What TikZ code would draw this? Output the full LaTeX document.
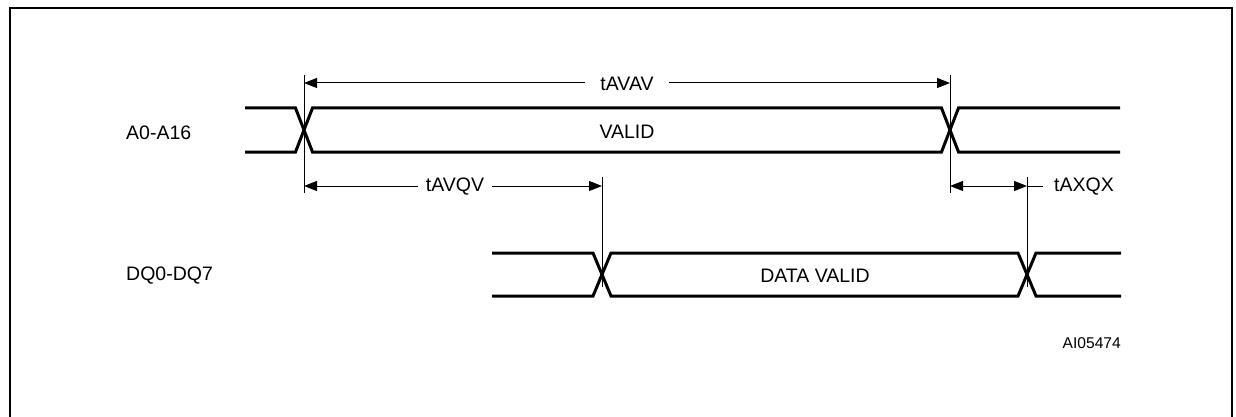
\documentclass[tikz,border=0pt]{standalone}
\usepackage{fontspec}
\setmainfont{Liberation Sans}
\usetikzlibrary{arrows.meta}
\tikzset{
  lbl/.style={font=\fontsize{19.5}{23}\selectfont, inner sep=0pt},
  smalllbl/.style={font=\fontsize{15.6}{18}\selectfont, inner sep=0pt},
  bus/.style={line width=3pt, line join=miter},
  dim/.style={line width=1pt},
  tip/.style={-{Triangle[length=13pt,width=10pt]}},
  frame/.style={line width=2pt}
}
\begin{document}
\begin{tikzpicture}[x=1pt,y=-1pt]
\useasboundingbox (0,0) rectangle (1236,417);
% frame
\coordinate (fbl) at (10,420);
\coordinate (ftl) at (10,8);
\coordinate (ftr) at (1232,8);
\coordinate (fbr) at (1232,420);
\draw[frame] (fbl) -- (ftl) -- (ftr) -- (fbr);

% signal names
\node[lbl, anchor=west] (aname) at (126,133) {A0-A16};
\node[lbl, anchor=west] (dqname) at (126,276) {DQ0-DQ7};

% A0-A16 bus
\draw[bus] (245,108) -- (295.5,108) -- (312.5,152) -- (941.5,152) -- (958.5,108) -- (1120,108);
\draw[bus] (245,152) -- (295.5,152) -- (312.5,108) -- (941.5,108) -- (958.5,152) -- (1120,152);
\node[lbl] (valid) at (627,132) {VALID};

% DQ bus
\draw[bus] (492,253) -- (593,253) -- (611,296) -- (1018,296) -- (1036,253) -- (1121,253);
\draw[bus] (492,296) -- (593,296) -- (611,253) -- (1018,253) -- (1036,296) -- (1121,296);
\node[lbl] (dvalid) at (815,276) {DATA VALID};

% ticks
\coordinate (k1a) at (304,75);  \coordinate (k1b) at (304,193);
\coordinate (k2a) at (950,75);  \coordinate (k2b) at (950,193);
\coordinate (k3a) at (602,177); \coordinate (k3b) at (602,287);
\coordinate (k4a) at (1027,177); \coordinate (k4b) at (1027,287);
\draw[dim] (k1a) -- (k1b);
\draw[dim] (k2a) -- (k2b);
\draw[dim] (k3a) -- (k3b);
\draw[dim] (k4a) -- (k4b);

% tAVAV
\coordinate (avL) at (304,83);
\coordinate (avR) at (950,83);
\node[lbl, inner xsep=15pt] (tavav) at (627,84) {tAVAV};
\draw[dim, tip] (tavav.west |- avL) -- (avL);
\draw[dim, tip] (tavav.east |- avR) -- (avR);

% tAVQV
\coordinate (qvL) at (304,186);
\coordinate (qvR) at (602,186);
\node[lbl, inner xsep=8pt] (tavqv) at (455,187) {tAVQV};
\draw[dim, tip] (tavqv.west |- qvL) -- (qvL);
\draw[dim, tip] (tavqv.east |- qvR) -- (qvR);

% tAXQX
\coordinate (xqL) at (950,186);
\coordinate (xqR) at (1027,186);
\node[lbl, anchor=west, inner xsep=11pt] (taxqx) at (1043,187) {tAXQX};
\draw[dim, {Triangle[length=13pt,width=10pt]}-{Triangle[length=13pt,width=10pt]}] (xqL) -- (xqR);
\draw[dim] (xqR) -- (taxqx.west |- xqR);

% figure id
\node[smalllbl, anchor=east] (aiid) at (1121,343) {AI05474};
\end{tikzpicture}
\end{document}
